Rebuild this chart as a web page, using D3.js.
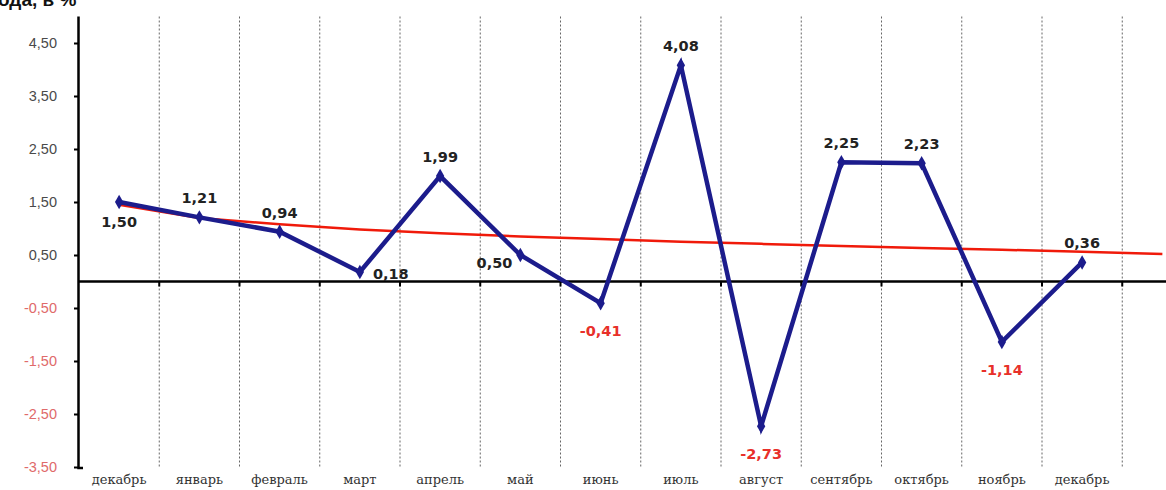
<!DOCTYPE html>
<html><head><meta charset="utf-8">
<script src="https://cdn.jsdelivr.net/npm/d3@7/dist/d3.min.js"></script>
<style>
html,body{margin:0;padding:0;background:#fff;overflow:hidden;}
svg{display:block;}
</style>
</head><body>
<svg id="chart" width="1166" height="490"></svg>
<script>
// ---- data ----
const months = ["декабрь","январь","февраль","март","апрель","май","июнь","июль","август","сентябрь","октябрь","ноябрь","декабрь"];
const values = [1.50, 1.21, 0.94, 0.18, 1.99, 0.50, -0.41, 4.08, -2.73, 2.25, 2.23, -1.14, 0.36];
// trend line values (13 months + one extra period)
const trend = [1.45, 1.20, 1.08, 0.98, 0.91, 0.85, 0.80, 0.75, 0.71, 0.67, 0.63, 0.60, 0.56, 0.52];
const yTicks = [-3.5, -2.5, -1.5, -0.5, 0.5, 1.5, 2.5, 3.5, 4.5];
const labelPos = ["below","above","above","right","above","left","below","above","below","above","above","below","above"];
const titleText = "ода, в %";

const svg = d3.select("#chart");
const W = 1166, H = 490;
const left = 79, bandW = 80.25, nBands = 14;
const x = d3.scaleBand().domain(d3.range(nBands)).range([left, left + bandW * nBands]).padding(0);
const y = d3.scaleLinear().domain([-3.5, 5.0]).range([467, 16.5]);
const cx = i => x(i) + x.bandwidth() / 2;
const locale = d3.formatLocale({decimal: ",", thousands: " ", grouping: [3], currency: ["", ""], minus: "-"});
const fmt = locale.format(".2f");

// title fragment (cut off at top, as in the source)
svg.append("text").attr("x", -2).attr("y", 6)
  .attr("font-family", "Arial, 'Liberation Sans', sans-serif").attr("font-weight", "bold")
  .attr("font-size", 19).attr("fill", "#111").text(titleText);

// vertical dashed gridlines at band boundaries
const bounds = d3.range(1, nBands + 1).map(i => left + bandW * i);
svg.append("g").selectAll("line").data(bounds).join("line")
  .attr("x1", d => d).attr("x2", d => d)
  .attr("y1", y(5.0)).attr("y2", y(-3.5))
  .attr("stroke", "#666").attr("stroke-width", 1).attr("stroke-dasharray", "2,2");

// y axis
const yAxis = d3.axisLeft(y).tickValues(yTicks).tickSize(5).tickFormat(fmt);
const gy = svg.append("g").attr("transform", `translate(${left},0)`).call(yAxis);
gy.select(".domain").attr("stroke", "#000").attr("stroke-width", 2.5).attr("d", `M-0.5,${y(5.0)}V${y(-3.5)+1}H4`);
gy.selectAll(".tick line").attr("stroke", "#000").attr("stroke-width", 2);
gy.selectAll(".tick text")
  .attr("x", -22)
  .attr("font-family", "Arial, 'Liberation Sans', sans-serif")
  .attr("font-size", 14.5)
  .attr("fill", d => d < 0 ? "#e06a6a" : "#4a4a4a");

// zero line with ticks
svg.append("line").attr("x1", left).attr("x2", W).attr("y1", y(0)).attr("y2", y(0))
  .attr("stroke", "#000").attr("stroke-width", 2.5);
svg.append("g").selectAll("line").data(bounds).join("line")
  .attr("x1", d => d).attr("x2", d => d).attr("y1", y(0)).attr("y2", y(0) + 5)
  .attr("stroke", "#000").attr("stroke-width", 2);

// x labels
svg.append("g").selectAll("text").data(months).join("text")
  .attr("x", (d, i) => cx(i)).attr("y", 484)
  .attr("text-anchor", "middle")
  .attr("font-family", "'DejaVu Serif', 'Liberation Serif', serif")
  .attr("font-size", 13).attr("fill", "#333")
  .text(d => d);

// trend line (red)
const tline = d3.line().x((d, i) => cx(i)).y(d => y(d));
svg.append("path").datum(trend).attr("d", tline)
  .attr("fill", "none").attr("stroke", "#f01a0a").attr("stroke-width", 2.5);

// main series
const line = d3.line().x((d, i) => cx(i)).y(d => y(d));
svg.append("path").datum(values).attr("d", line)
  .attr("fill", "none").attr("stroke", "#1c1c8c").attr("stroke-width", 4.5)
  .attr("stroke-linejoin", "miter");
svg.append("g").selectAll("path").data(values).join("path")
  .attr("d", d3.symbol().type(d3.symbolDiamond).size(60))
  .attr("transform", (d, i) => `translate(${cx(i)},${y(d)})`)
  .attr("fill", "#1c1c8c");

// data labels
const lab = svg.append("g");
values.forEach((v, i) => {
  const p = labelPos[i];
  let tx = cx(i), ty = y(v), anchor = "middle";
  if (p === "above") ty -= 14;
  else if (p === "below") ty += (v < 0 ? 33 : 25);
  else if (p === "right") { tx += 13; ty += 7; anchor = "start"; }
  else if (p === "left") { tx -= 8; ty += 13; anchor = "end"; }
  lab.append("text").attr("x", tx).attr("y", ty).attr("text-anchor", anchor)
    .attr("font-family", "'DejaVu Sans', Verdana, sans-serif").attr("font-weight", "bold")
    .attr("font-size", 14.5).attr("fill", v < 0 ? "#e8302a" : "#222")
    .text(fmt(v));
});
</script>
</body></html>
